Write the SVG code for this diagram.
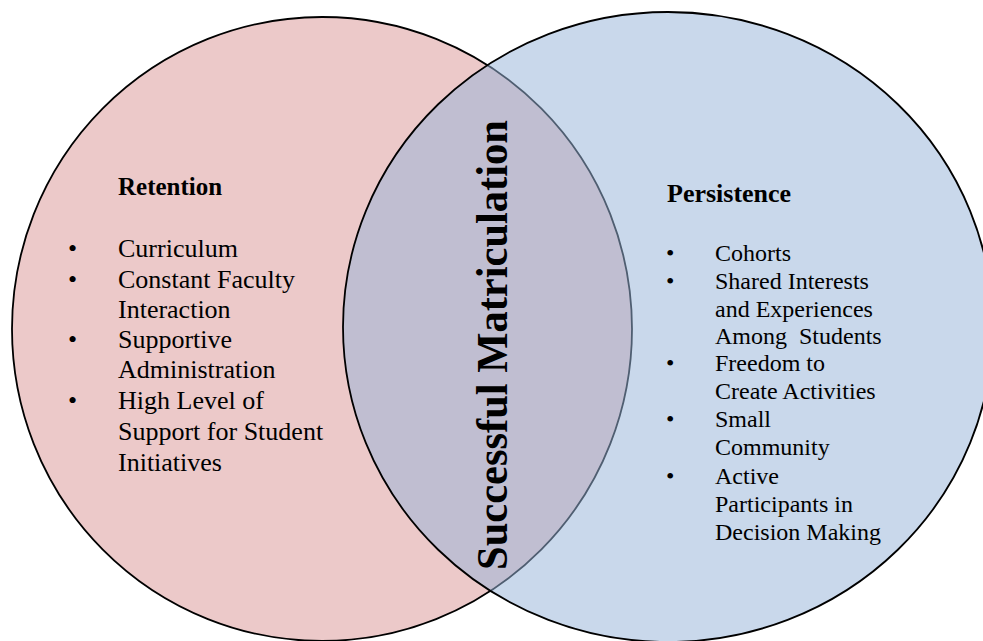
<svg xmlns="http://www.w3.org/2000/svg" width="983" height="641" viewBox="0 0 983 641">
<style>
.t{font-family:"Liberation Serif","Times New Roman",serif;fill:#000;white-space:pre}
.h{font-weight:bold;font-size:25px}
.l{font-size:26px}
.r{font-size:24px}
.c{stroke:#000;stroke-width:1.8}
</style>
<rect width="983" height="641" fill="#fff"/>
<g id="retention-circle">
<ellipse class="c" cx="322" cy="329" rx="310" ry="312" fill="#ECC9C9"/>
</g>
<g id="persistence-circle">
<ellipse class="c" cx="668" cy="327" rx="325" ry="315" fill="#97B4D9" fill-opacity="0.52"/>
</g>
<g id="retention-text">
<text class="t h" x="118" y="195">Retention</text>
<g class="t l">
<text x="68" y="257">•</text><text x="118" y="257">Curriculum</text>
<text x="68" y="288">•</text><text x="118" y="288">Constant Faculty</text>
<text x="118" y="318">Interaction</text>
<text x="68" y="348">•</text><text x="118" y="348">Supportive</text>
<text x="118" y="378">Administration</text>
<text x="68" y="409">•</text><text x="118" y="409">High Level of</text>
<text x="118" y="440">Support for Student</text>
<text x="118" y="471">Initiatives</text>
</g>
</g>
<g id="persistence-text">
<text class="t h" x="667" y="202" style="font-size:26px">Persistence</text>
<g class="t r">
<text x="666" y="261">•</text><text x="715" y="261">Cohorts</text>
<text x="666" y="289">•</text><text x="715" y="289">Shared Interests</text>
<text x="715" y="317">and Experiences</text>
<text x="715" y="344" xml:space="preserve">Among  Students</text>
<text x="666" y="371">•</text><text x="715" y="371">Freedom to</text>
<text x="715" y="399">Create Activities</text>
<text x="666" y="427">•</text><text x="715" y="427">Small</text>
<text x="715" y="455">Community</text>
<text x="666" y="484">•</text><text x="715" y="484">Active</text>
<text x="715" y="512">Participants in</text>
<text x="715" y="540">Decision Making</text>
</g>
</g>
<g id="overlap-label">
<text class="t" x="507" y="345" text-anchor="middle" transform="rotate(-90 507 345)" style="font-weight:bold;font-size:45px" textLength="450" lengthAdjust="spacingAndGlyphs">Successful Matriculation</text>
</g>
</svg>
